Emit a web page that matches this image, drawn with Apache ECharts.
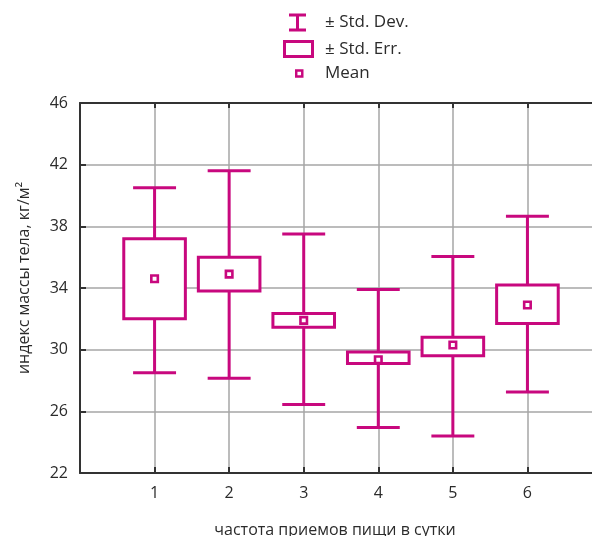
<!DOCTYPE html>
<html>
<head>
<meta charset="utf-8">
<script src="https://cdn.jsdelivr.net/npm/echarts@6/dist/echarts.min.js"></script>
<style>html,body{margin:0;padding:0;background:#fff}#c{width:592px;height:536px}</style>
</head>
<body>
<div id="c"></div>
<script>
// Data
const categories = [1, 2, 3, 4, 5, 6];
const xTickLabels = ['1', '2', '3', '4', '5', '6'];
const yTicks = [22, 26, 30, 34, 38, 42, 46];
const meanVals = [34.6, 34.9, 31.9, 29.35, 30.3, 32.9];
const seLow = [32.0, 33.8, 31.45, 29.1, 29.6, 31.7];
const seHigh = [37.2, 36.0, 32.35, 29.85, 30.8, 34.2];
const sdLow = [28.5, 28.15, 26.45, 24.95, 24.4, 27.25];
const sdHigh = [40.5, 41.6, 37.5, 33.9, 36.05, 38.65];
const seriesNames = ['± Std. Dev.', '± Std. Err.', 'Mean'];

const MAG = '#c8087e';
const FONT = 'Open Sans';
const TXT = '#2b2b2b';

const sdData = categories.map((c, i) => [c, sdLow[i], sdHigh[i]]);
const seData = categories.map((c, i) => [c, seLow[i], seHigh[i]]);
const meanData = categories.map((c, i) => [c, meanVals[i]]);

function renderSD(params, api) {
  const x = api.value(0);
  const lo = api.coord([x, api.value(1)]);
  const hi = api.coord([x, api.value(2)]);
  const half = api.size([1, 0])[0] * 0.288;
  const st = { stroke: MAG, lineWidth: 3, fill: null };
  return {
    type: 'group',
    children: [
      { type: 'line', shape: { x1: lo[0], y1: lo[1], x2: hi[0], y2: hi[1] }, style: st },
      { type: 'line', shape: { x1: lo[0] - half, y1: lo[1], x2: lo[0] + half, y2: lo[1] }, style: st },
      { type: 'line', shape: { x1: hi[0] - half, y1: hi[1], x2: hi[0] + half, y2: hi[1] }, style: st }
    ]
  };
}
function renderSE(params, api) {
  const x = api.value(0);
  const lo = api.coord([x, api.value(1)]);
  const hi = api.coord([x, api.value(2)]);
  const half = api.size([1, 0])[0] * 0.413;
  return {
    type: 'rect',
    shape: { x: lo[0] - half, y: hi[1], width: half * 2, height: lo[1] - hi[1] },
    style: { stroke: MAG, lineWidth: 3, fill: '#fff' }
  };
}
function renderMean(params, api) {
  const p = api.coord([api.value(0), api.value(1)]);
  const s = 6.5;
  return {
    type: 'rect',
    shape: { x: p[0] - s / 2, y: p[1] - s / 2, width: s, height: s },
    style: { stroke: MAG, lineWidth: 2.6, fill: '#fff' }
  };
}

const iconSD = 'path://M0,0 H17 V3 H10 V15 H17 V18 H0 V15 H7 V3 H0 Z';
const iconSE = 'path://M0,0 H31 V18 H0 Z M3,3 V15 H28 V3 Z';
const iconMean = 'path://M0,0 H9 V9 H0 Z M2.6,2.6 V6.4 H6.4 V2.6 Z';

function legendFor(name, icon, left, w, h, top) {
  const textX = 325;
  return {
    left: left, top: top, padding: 0,
    itemWidth: w, itemHeight: h, itemGap: 0,
    selectedMode: false,
    textStyle: { fontFamily: FONT, fontSize: 17, color: TXT,
      padding: [0, 0, 0, textX - (left + w + 5)] },
    data: [{ name: name, icon: icon, itemStyle: { color: MAG, borderWidth: 0 } }]
  };
}

const chart = echarts.init(document.getElementById('c'), null, { renderer: 'canvas' });
chart.setOption({
  animation: false,
  backgroundColor: '#fff',
  legend: [
    legendFor(seriesNames[0], iconSD, 289, 17, 18, 13.5),
    legendFor(seriesNames[1], iconSE, 283, 31, 18, 40),
    legendFor(seriesNames[2], iconMean, 295, 8.5, 8.5, 65)
  ],
  grid: { left: 80, top: 103, bottom: 63, right: -10, containLabel: false, outerBoundsMode: 'none' },
  xAxis: [{
    type: 'value', min: 0, max: 7, interval: 1,
    name: 'частота приемов пищи в сутки', nameLocation: 'middle', nameGap: 49,
    nameTextStyle: { fontFamily: FONT, fontSize: 16, color: TXT, padding: [0, 12, 0, 0] },
    axisLine: { show: true, lineStyle: { color: '#333', width: 2 } },
    axisTick: { show: true, inside: true, length: 6, lineStyle: { color: '#333', width: 2 } },
    axisLabel: {
      fontFamily: FONT, fontSize: 16, color: TXT, margin: 12,
      formatter: v => { const i = categories.indexOf(v); return i >= 0 ? xTickLabels[i] : ''; }
    },
    splitLine: { show: true, lineStyle: { color: '#a6a6a6', width: 1.5 } }
  }, {
    type: 'value', min: 0, max: 7, interval: 1, position: 'top',
    axisLine: { show: true, lineStyle: { color: '#333', width: 2 } },
    axisTick: { show: true, inside: true, length: 5, lineStyle: { color: '#333', width: 2 } },
    axisLabel: { show: false },
    splitLine: { show: false }
  }],
  yAxis: {
    type: 'value', min: yTicks[0], max: yTicks[yTicks.length - 1], interval: 4,
    name: 'индекс массы тела, кг/м²', nameLocation: 'middle', nameGap: 48,
    nameTextStyle: { fontFamily: FONT, fontSize: 16, color: TXT, padding: [0, 0, 0, 20] },
    axisLine: { show: true, lineStyle: { color: '#333', width: 2 } },
    axisTick: { show: true, inside: true, length: 6, lineStyle: { color: '#333', width: 2 } },
    axisLabel: { fontFamily: FONT, fontSize: 16, color: TXT, margin: 12 },
    splitLine: { show: true, lineStyle: { color: '#a6a6a6', width: 1.5 } }
  },
  series: [
    { name: seriesNames[0], type: 'custom', renderItem: renderSD, data: sdData,
      itemStyle: { color: MAG }, encode: { x: 0, y: [1, 2] }, z: 2 },
    { name: seriesNames[1], type: 'custom', renderItem: renderSE, data: seData,
      itemStyle: { color: MAG }, encode: { x: 0, y: [1, 2] }, z: 3 },
    { name: seriesNames[2], type: 'custom', renderItem: renderMean, data: meanData,
      itemStyle: { color: MAG }, encode: { x: 0, y: 1 }, z: 4 }
  ]
});
</script>
</body>
</html>
